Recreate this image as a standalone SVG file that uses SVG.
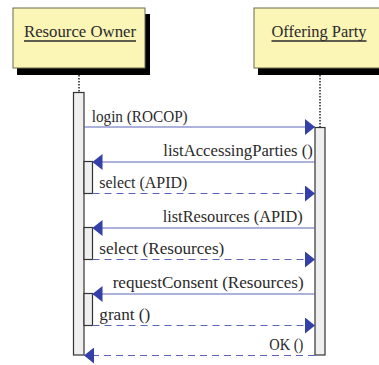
<svg xmlns="http://www.w3.org/2000/svg" width="379" height="365" viewBox="0 0 379 365">
<style>
.hdr{fill:#fbf5b6;stroke:#6b6b50;stroke-width:1}
.shadow{fill:#000}
.htxt{font-family:"Liberation Serif",serif;font-size:17px;fill:#2a2a2a}
.ul{stroke:#2a2a2a;stroke-width:1.3}
.life{stroke:#222;stroke-width:1.5;stroke-dasharray:1.5 1.5;fill:none}
.bar{fill:#efefef;stroke:#333;stroke-width:1.2}
.msg{stroke:#5a66b8;stroke-width:1.2;fill:none}
.ret{stroke:#5a66b8;stroke-width:1.2;stroke-dasharray:7 5;fill:none}
.lbl{font-family:"Liberation Serif",serif;font-size:16px;fill:#2a2a2a}
</style>
<defs>
<marker id="ah" viewBox="0 0 10 16" refX="10" refY="8" markerWidth="10" markerHeight="16" markerUnits="userSpaceOnUse" orient="auto">
<path d="M0,0 L10,8 L0,16 Z" fill="#3340a8"/>
</marker>
</defs>
<g id="resource-owner">
<rect class="shadow" x="17" y="14" width="133" height="61"/>
<rect class="hdr" x="13" y="8" width="132" height="60"/>
<text class="htxt" x="24" y="37" textLength="112" lengthAdjust="spacingAndGlyphs">Resource Owner</text>
<line class="ul" x1="24" y1="41" x2="136" y2="41"/>
<line class="life" x1="79" y1="75" x2="79" y2="92"/>
<rect class="bar" x="73.5" y="92.5" width="10.5" height="262.5"/>
</g>
<g id="offering-party">
<rect class="shadow" x="258" y="14" width="125" height="61"/>
<rect class="hdr" x="254" y="8" width="130" height="60"/>
<text class="htxt" x="271.5" y="37" textLength="95" lengthAdjust="spacingAndGlyphs">Offering Party</text>
<line class="ul" x1="271.5" y1="41" x2="366.5" y2="41"/>
<line class="life" x1="320" y1="75" x2="320" y2="127"/>
<rect class="bar" x="315" y="127.5" width="10" height="227.5"/>
</g>
<g id="activations">
<rect class="bar" x="84" y="161.5" width="8.5" height="32"/>
<rect class="bar" x="84" y="227.5" width="8.5" height="32"/>
<rect class="bar" x="84" y="293.5" width="8.5" height="32"/>
</g>
<g id="connectors">
<line class="msg" x1="84" y1="127" x2="315" y2="127" marker-end="url(#ah)"/>
<line class="msg" x1="315" y1="162" x2="92.5" y2="162" marker-end="url(#ah)"/>
<line class="ret" x1="92.5" y1="193.5" x2="315" y2="193.5" marker-end="url(#ah)"/>
<line class="msg" x1="315" y1="228" x2="92.5" y2="228" marker-end="url(#ah)"/>
<line class="ret" x1="92.5" y1="259.5" x2="315" y2="259.5" marker-end="url(#ah)"/>
<line class="msg" x1="315" y1="294" x2="92.5" y2="294" marker-end="url(#ah)"/>
<line class="ret" x1="92.5" y1="325.5" x2="315" y2="325.5" marker-end="url(#ah)"/>
<line class="ret" x1="315" y1="355.5" x2="84" y2="355.5" marker-end="url(#ah)"/>
</g>
<g id="labels">
<text class="lbl" x="91.7" y="122" textLength="96" lengthAdjust="spacingAndGlyphs">login (ROCOP)</text>
<text class="lbl" x="163.3" y="156" textLength="149.5" lengthAdjust="spacingAndGlyphs">listAccessingParties ()</text>
<text class="lbl" x="99.3" y="188" textLength="88" lengthAdjust="spacingAndGlyphs">select (APID)</text>
<text class="lbl" x="162.7" y="222" textLength="140" lengthAdjust="spacingAndGlyphs">listResources (APID)</text>
<text class="lbl" x="99.3" y="254" textLength="125" lengthAdjust="spacingAndGlyphs">select (Resources)</text>
<text class="lbl" x="112.7" y="288" textLength="191" lengthAdjust="spacingAndGlyphs">requestConsent (Resources)</text>
<text class="lbl" x="99.3" y="320" textLength="51" lengthAdjust="spacingAndGlyphs">grant ()</text>
<text class="lbl" x="269.3" y="350" textLength="34" lengthAdjust="spacingAndGlyphs">OK ()</text>
</g>
</svg>
